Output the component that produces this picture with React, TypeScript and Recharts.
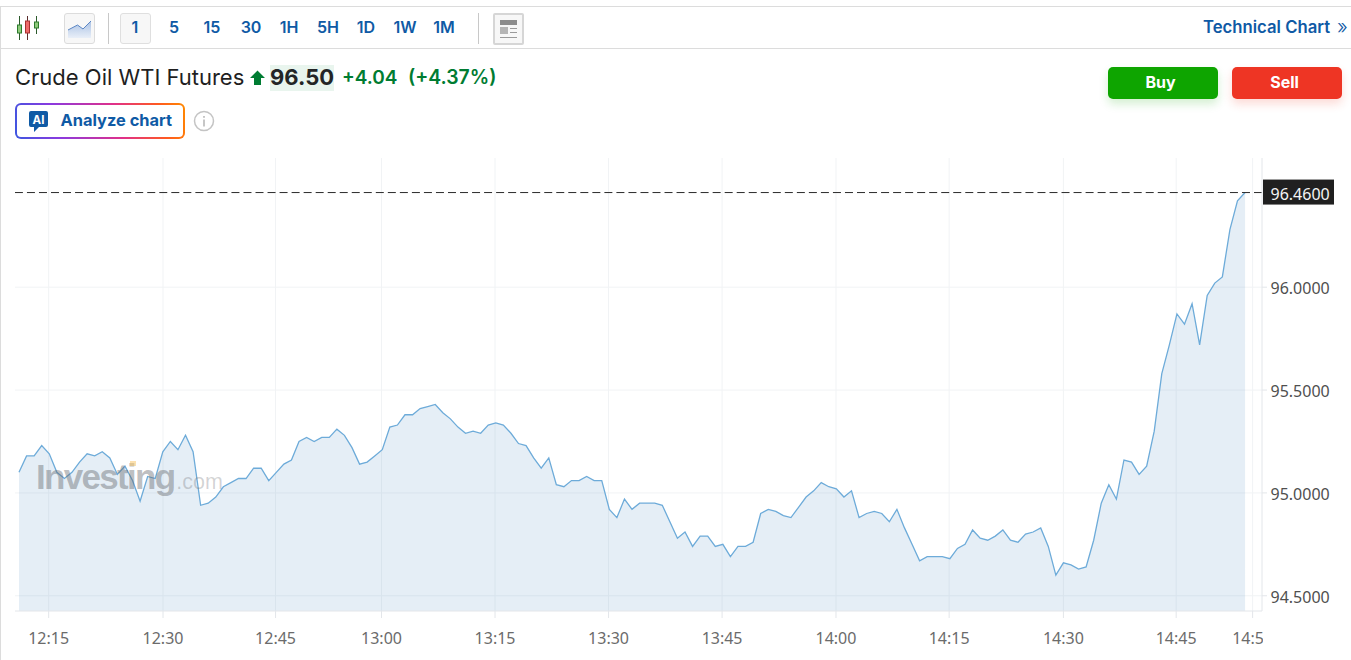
import React from "react";
import { ComposedChart, Area, XAxis, YAxis, CartesianGrid, ReferenceLine } from "recharts";

const prices: number[] = [
  95.10, 95.18, 95.18, 95.23, 95.19, 95.10, 95.07, 95.10, 95.15, 95.19,
  95.18, 95.20, 95.17, 95.09, 95.13, 95.06, 94.96, 95.08, 95.07, 95.20,
  95.25, 95.21, 95.28, 95.20, 94.94, 94.95, 94.98, 95.03, 95.05, 95.07,
  95.07, 95.12, 95.12, 95.06, 95.10, 95.14, 95.16, 95.25, 95.27, 95.25,
  95.27, 95.27, 95.31, 95.28, 95.22, 95.14, 95.15, 95.18, 95.21, 95.32,
  95.33, 95.38, 95.38, 95.41, 95.42, 95.43, 95.39, 95.36, 95.32, 95.29,
  95.30, 95.29, 95.33, 95.34, 95.33, 95.29, 95.24, 95.23, 95.17, 95.12,
  95.17, 95.04, 95.03, 95.06, 95.06, 95.08, 95.06, 95.06, 94.92, 94.88,
  94.97, 94.92, 94.95, 94.95, 94.95, 94.94, 94.86, 94.78, 94.81, 94.74,
  94.79, 94.79, 94.74, 94.75, 94.69, 94.74, 94.74, 94.76, 94.90, 94.92,
  94.91, 94.89, 94.88, 94.93, 94.98, 95.01, 95.05, 95.03, 95.02, 94.98,
  95.01, 94.88, 94.90, 94.91, 94.90, 94.86, 94.92, 94.83, 94.75, 94.67,
  94.69, 94.69, 94.69, 94.68, 94.73, 94.75, 94.82, 94.78, 94.77, 94.79,
  94.82, 94.77, 94.76, 94.80, 94.81, 94.83, 94.74, 94.60, 94.66, 94.65,
  94.63, 94.64, 94.77, 94.95, 95.04, 94.97, 95.16, 95.15, 95.09, 95.13,
  95.30, 95.58, 95.72, 95.87, 95.82, 95.92, 95.72, 95.96, 96.02, 96.05,
  96.28, 96.42, 96.46,
];
const tickPositions: number[] = [3.92, 19.03, 33.9, 47.9, 62.9, 77.9, 92.9, 107.95, 122.9, 138, 152.9, 163];
const tickLabels: string[] = ["12:15", "12:30", "12:45", "13:00", "13:15", "13:30", "13:45", "14:00", "14:15", "14:30", "14:45", "14:55"];
const priceTicks: number[] = [94.5, 95, 95.5, 96];
const lastPrice = 96.46;
const intervals: [string, number][] = [["1", 135], ["5", 174], ["15", 212], ["30", 251], ["1H", 289], ["5H", 328], ["1D", 366], ["1W", 405], ["1M", 444]];

const data = prices.map((price, i) => ({ i, price }));
const UI = "Inter, 'Liberation Sans', sans-serif";
const AXIS = "'Noto Sans', sans-serif";
const BLUE = "#0f5aa5";

const abs = (o: React.CSSProperties): React.CSSProperties => ({ position: "absolute", ...o });

function XTick(props: any) {
  const { x, y, payload, index } = props;
  return (
    <g>
      <line x1={x} x2={x} y1={y - 8} y2={y - 1} stroke="#e3e6ea" strokeWidth={1} />
      <clipPath id={`xc${index}`}><rect x={0} y={600} width={1263} height={60} /></clipPath>
      <text x={x} y={y + 25} textAnchor="middle" clipPath={`url(#xc${index})`} fontFamily={AXIS} fontSize={16} fill="#6b6b6b">
        {tickLabels[tickPositions.indexOf(payload.value)]}
      </text>
    </g>
  );
}

function YTick(props: any) {
  const { x, y, payload } = props;
  return (
    <g>
      <line x1={x - 8} x2={x - 3} y1={y} y2={y} stroke="#e3e6ea" />
      <text x={x + 0.5} y={y + 7} fontFamily={AXIS} fontSize={16} fill="#4f4f4f">{payload.value.toFixed(4)}</text>
    </g>
  );
}

function LastLabel(props: any) {
  const y = props.viewBox.y;
  return (
    <g>
      <rect x={1263} y={y - 13} width={71} height={25} fill="#202020" />
      <text x={1270.5} y={y + 7} fontFamily={AXIS} fontSize={16} fill="#f4f4f4">{lastPrice.toFixed(4)}</text>
    </g>
  );
}

export default function App() {
  return (
    <div style={abs({ left: 0, top: 0, width: 1351, height: 660, background: "#fff", overflow: "hidden", fontFamily: UI })}>
      <div style={abs({ left: 0, top: 6, width: 1351, height: 1, background: "#dcdcdc" })} />
      <div style={abs({ left: 0, top: 6, width: 1, height: 654, background: "#dcdcdc" })} />
      <div style={abs({ left: 0, top: 48, width: 1351, height: 1, background: "#dcdcdc" })} />

      <svg style={abs({ left: 14, top: 14 })} width={28} height={28}>
        <g strokeWidth={1}>
          <line x1={5.5} x2={5.5} y1={2} y2={26} stroke="#2c5a2c" />
          <rect x={3.5} y={11} width={4} height={8} fill="#8fca7c" stroke="#2c7a2c" />
          <line x1={13.5} x2={13.5} y1={2} y2={26} stroke="#5a2c2c" />
          <rect x={11.5} y={7} width={4} height={12} fill="#ee6a6a" stroke="#a83030" />
          <line x1={22.5} x2={22.5} y1={2} y2={20} stroke="#2c5a2c" />
          <rect x={20.5} y={8} width={4} height={6} fill="#8fca7c" stroke="#2c7a2c" />
        </g>
      </svg>
      <div style={abs({ left: 64, top: 13, width: 29, height: 29, border: "1px solid #dcdcdc", borderRadius: 3, background: "#f7f7f7" })} />
      <svg style={abs({ left: 64, top: 13 })} width={31} height={31}>
        <defs>
          <linearGradient id="ic" x1="0" x2="0" y1="0" y2="1"><stop offset="0" stopColor="#a9c1e4" /><stop offset="1" stopColor="#e9eff8" /></linearGradient>
        </defs>
        <path d="M4 17 L13.5 12 L19 16 L27 8 L27 25 L4 25 Z" fill="url(#ic)" />
        <path d="M4 17 L13.5 12 L19 16 L27 8" fill="none" stroke="#5b86c4" strokeWidth={1} />
      </svg>
      <div style={abs({ left: 108, top: 13, width: 1, height: 31, background: "#c8c8c8" })} />
      <div style={abs({ left: 120, top: 13, width: 29, height: 29, border: "1px solid #dfdfdf", borderRadius: 3, background: "#f7f7f7" })} />
      {intervals.map(([t, cx]) => (
        <div key={t} style={abs({ left: cx - 25, width: 50, top: 17, textAlign: "center", fontSize: 16, lineHeight: "20px", fontWeight: 600, color: BLUE })}>{t}</div>
      ))}
      <div style={abs({ left: 478, top: 13, width: 1, height: 31, background: "#c8c8c8" })} />
      <div style={abs({ left: 493, top: 13, width: 27, height: 28, border: "2px solid #d6d6d6", borderRadius: 2, background: "#f7f7f7" })} />
      <svg style={abs({ left: 494, top: 14 })} width={29} height={29}>
        <rect x={6} y={6} width={17} height={5} fill="#8c8c8c" />
        <rect x={6} y={13} width={8} height={7} fill="#b5b5b5" />
        <g stroke="#9a9a9a"><line x1={16} x2={23} y1={14.5} y2={14.5} /><line x1={16} x2={23} y1={18.5} y2={18.5} /><line x1={6} x2={23} y1={23.5} y2={23.5} /></g>
      </svg>
      <div style={abs({ left: 1203, top: 17, fontSize: 16.7, lineHeight: "20px", fontWeight: 600, color: BLUE, whiteSpace: "nowrap" })}>Technical Chart</div>
      <div style={abs({ left: 1337, top: 17, fontSize: 20, lineHeight: "20px", fontWeight: 300, color: BLUE })}>»</div>

      <div style={abs({ left: 15, top: 64, fontSize: 22, lineHeight: "27px", color: "#1f1f1f", whiteSpace: "nowrap" })}>Crude Oil WTI Futures</div>
      <svg style={abs({ left: 250, top: 70 })} width={16} height={16}><path d="M7.5 0.5 L15 8 L11 8 L11 15 L4 15 L4 8 L0 8 Z" fill="#007c32" /></svg>
      <div style={abs({ left: 270, top: 65, width: 64, height: 26, background: "#e9f5ee" })} />
      <div style={abs({ left: 270, top: 64, fontSize: 22, lineHeight: "27px", fontWeight: 700, color: "#232526" })}>96.50</div>
      <div style={abs({ left: 342, top: 65, fontSize: 19, lineHeight: "25px", fontWeight: 600, color: "#007c32", whiteSpace: "nowrap" })}>+4.04</div>
      <div style={abs({ left: 408, top: 65, fontSize: 19.4, lineHeight: "25px", fontWeight: 600, color: "#007c32", whiteSpace: "nowrap" })}>(+4.37%)</div>

      <div style={abs({ left: 1108, top: 67, width: 105, paddingRight: 5, height: 32, borderRadius: 5, background: "#0ea500", boxShadow: "0 5px 10px rgba(14,165,0,.18)", color: "#fff", fontSize: 16, fontWeight: 700, lineHeight: "31px", textAlign: "center" })}>Buy</div>
      <div style={abs({ left: 1232, top: 67, width: 105, paddingRight: 5, height: 32, borderRadius: 5, background: "#ee3524", boxShadow: "0 5px 10px rgba(238,53,36,.18)", color: "#fff", fontSize: 16, fontWeight: 700, lineHeight: "31px", textAlign: "center" })}>Sell</div>

      <div style={abs({ left: 15, top: 103, width: 166, height: 32, border: "2px solid transparent", borderRadius: 6, background: "linear-gradient(#fff,#fff) padding-box, linear-gradient(75deg,#3c57e0 0%,#8a3ae0 25%,#e0308a 60%,#ff5a20 85%,#ff8a00 100%) border-box" })} />
      <svg style={abs({ left: 28, top: 111 })} width={21} height={22}>
        <path d="M3 0 H18 Q20 0 20 2 V14 Q20 16 18 16 H11 L6 21 V16 H3 Q1 16 1 14 V2 Q1 0 3 0 Z" fill={BLUE} />
        <text x={10.5} y={12.5} textAnchor="middle" fontFamily={UI} fontSize={11.5} fontWeight={700} fill="#fff">AI</text>
      </svg>
      <div style={abs({ left: 60.5, top: 110, fontSize: 16.4, lineHeight: "20px", fontWeight: 700, color: BLUE, whiteSpace: "nowrap" })}>Analyze chart</div>
      <svg style={abs({ left: 193, top: 110 })} width={22} height={22}>
        <circle cx={11} cy={11} r={9.5} fill="none" stroke="#c4c4c4" strokeWidth={1.5} />
        <rect x={10.2} y={9.5} width={1.6} height={7} fill="#b8b8b8" />
        <rect x={10.2} y={6} width={1.6} height={1.8} fill="#b8b8b8" />
      </svg>

      <div style={abs({ left: 0, top: 0 })}>
        <ComposedChart width={1351} height={660} data={data} margin={{ top: 158, right: 0, bottom: 0, left: 15 }}>
          <CartesianGrid stroke="#f1f3f5" strokeWidth={1} horizontalValues={priceTicks} verticalValues={tickPositions} />
          <XAxis
            dataKey="i"
            type="number"
            domain={[-0.529, 164.24]}
            ticks={tickPositions}
            allowDataOverflow
            height={49}
            interval={0}
            tick={<XTick />}
            tickLine={false}
            axisLine={{ stroke: "#e3e6ea", strokeWidth: 1 }}
          />
          <YAxis
            orientation="right"
            type="number"
            domain={[94.426, 96.628]}
            ticks={priceTicks}
            allowDataOverflow
            width={89}
            interval={0}
            tick={<YTick />}
            tickLine={false}
            axisLine={{ stroke: "#e3e6ea", strokeWidth: 1 }}
          />
          <Area
            type="linear"
            dataKey="price"
            stroke="#6dabd9"
            strokeWidth={1.3}
            fill="#5b93c7"
            fillOpacity={0.16}
            dot={false}
            activeDot={false}
            isAnimationActive={false}
          />
          <ReferenceLine y={lastPrice} stroke="#2a2a2a" strokeWidth={1} strokeDasharray="8 4.03" ifOverflow="visible" label={<LastLabel />} />
        </ComposedChart>
      </div>

      <div style={abs({ left: 36, top: 456, fontSize: 35, lineHeight: "42px", fontWeight: 800, letterSpacing: -1.7, color: "rgba(95,100,105,.42)", whiteSpace: "nowrap", fontFamily: "'Liberation Sans', sans-serif" })}>
        Investing<span style={{ fontSize: 21.5, fontWeight: 400, letterSpacing: 0, marginLeft: 2, color: "rgba(95,100,105,.28)" }}>.com</span>
      </div>
      <div style={abs({ left: 130, top: 461, width: 6, height: 5, background: "rgba(250,200,110,.55)" })} />
    </div>
  );
}
